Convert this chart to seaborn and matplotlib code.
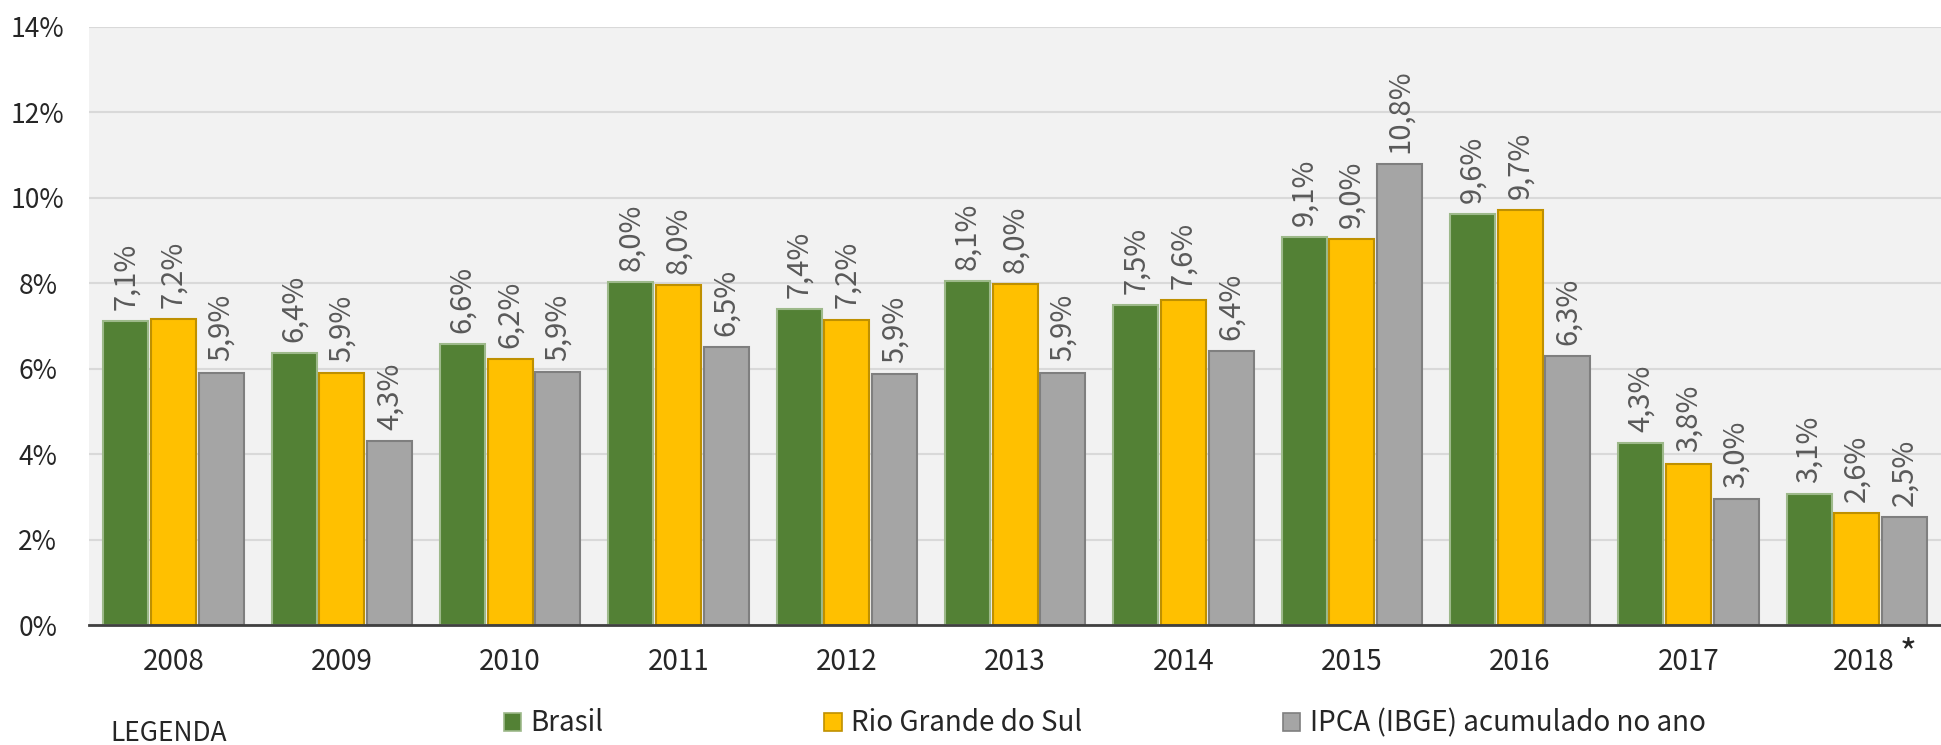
import seaborn as sns
import matplotlib.pyplot as plt
import pandas as pd
from matplotlib.patches import Patch
from matplotlib.transforms import ScaledTranslation

# data
years = ["2008", "2009", "2010", "2011", "2012", "2013", "2014", "2015", "2016", "2017", "2018"]
series = ["Brasil", "Rio Grande do Sul", "IPCA (IBGE) acumulado no ano"]
brasil = [7.11, 6.36, 6.57, 8.02, 7.40, 8.05, 7.49, 9.09, 9.62, 4.26, 3.06]
rio_grande = [7.16, 5.90, 6.22, 7.96, 7.15, 7.99, 7.60, 9.04, 9.72, 3.78, 2.62]
ipca = [5.91, 4.31, 5.93, 6.50, 5.87, 5.91, 6.41, 10.78, 6.29, 2.95, 2.53]
y_ticks = [0, 2, 4, 6, 8, 10, 12, 14]

colors = ["#538135", "#FFC000", "#A5A5A5"]
edges = ["#9DB98A", "#BF9000", "#7F7F7F"]

df = pd.DataFrame({
    "ano": years * 3,
    "serie": [s for s in series for _ in years],
    "valor": brasil + rio_grande + ipca,
})

sns.set_style("white")
plt.rcParams["font.family"] = ["Noto Sans CJK JP", "DejaVu Sans"]
txt = "#262626"

fig = plt.figure(figsize=(19.41, 7.45), dpi=100)
ax = fig.add_axes([0.046, 0.161, 0.954, 0.803])
ax.set_facecolor("#F2F2F2")

sns.barplot(data=df, x="ano", y="valor", hue="serie", hue_order=series,
            palette=colors, saturation=1, width=0.85, gap=0.06, legend=False, ax=ax)

for cont, ec in zip(ax.containers, edges):
    for bar in cont:
        bar.set_edgecolor(ec)
        bar.set_linewidth(1.5)
    labels = [f"{b.get_height():.1f}".replace(".", ",") + "%" for b in cont]
    ax.bar_label(cont, labels=labels, rotation=90, padding=8,
                 color="#595959", fontsize=21)

ax.set_ylim(0, 14)
ax.set_xlim(-0.5, len(years) - 0.5)
ax.set_yticks(y_ticks)
ax.set_yticklabels([f"{t}%" for t in y_ticks])
ax.yaxis.grid(True, color="#D9D9D9", linewidth=1.5)
ax.set_axisbelow(True)
ax.set_xlabel("")
ax.set_ylabel("")

for s in ["top", "right", "left"]:
    ax.spines[s].set_visible(False)
ax.spines["bottom"].set_color("#404040")
ax.spines["bottom"].set_linewidth(2)

ax.tick_params(axis="y", length=0, pad=37, labelsize=19, labelcolor=txt)
for t in ax.get_yticklabels():
    t.set_horizontalalignment("center")
ax.tick_params(axis="x", which="major", length=0, pad=16, labelsize=20, labelcolor=txt)
ax.set_xticks([i + 0.5 for i in range(-1, len(years))], minor=True)
ax.tick_params(axis="x", which="minor", direction="inout", length=13, width=1.3, color=txt)

# 2018 label sits a bit right, with a raised asterisk
last = ax.get_xticklabels()[-1]
last.set_transform(last.get_transform() + ScaledTranslation(0.07, 0, fig.dpi_scale_trans))
ax.annotate("*", xy=(len(years) - 1, 0), xycoords=("data", "axes fraction"),
            xytext=(31, -8), textcoords="offset points", fontsize=26, color=txt,
            va="top")

# legend entries placed like the original's slots
legend_x = [0.2595, 0.4247, 0.6608]
for lx, c, e, name in zip(legend_x, colors, edges, series):
    leg = fig.legend([Patch(facecolor=c, edgecolor=e, linewidth=1.2)], [name],
                     loc="center left", bbox_to_anchor=(lx, 0.029), frameon=False,
                     fontsize=20, handlelength=0.62, handleheight=0.62,
                     handletextpad=0.35, borderpad=0, borderaxespad=0, labelcolor=txt)
fig.text(0.057, 0.015, "LEGENDA", fontsize=19, color=txt, va="center")

fig.savefig("out.png", dpi=100)
